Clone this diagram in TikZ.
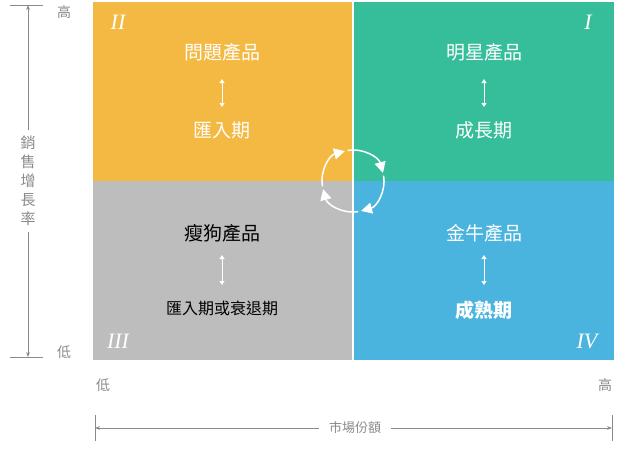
\documentclass[tikz,border=0pt]{standalone}
\usepackage{fontspec}
\setmainfont{Liberation Serif}
\newfontfamily\cjk{Noto Sans CJK TC}
\usetikzlibrary{arrows.meta}
\definecolor{qor}{HTML}{F4B942}
\definecolor{qgr}{HTML}{36BD9A}
\definecolor{qbl}{HTML}{4AB3DE}
\definecolor{qgy}{HTML}{BDBDBD}
\definecolor{axg}{HTML}{8A8A8A}
\tikzset{
 qt/.style={font=\cjk\fontsize{19}{19}\selectfont,text=white},
 qtb/.style={font=\cjk\fontsize{19}{19}\selectfont,text=black},
 num/.style={font=\itshape\fontsize{22}{22}\selectfont,text=white},
 dbl/.style={{Triangle[length=4pt,width=5pt]}-{Triangle[length=4pt,width=5pt]},white,line width=1pt},
 cyc/.style={white,line width=1.5pt,-{Triangle[length=11pt,width=11pt]}},
 ax/.style={axg,line width=0.7pt},
 axl/.style={font=\cjk\fontsize{14}{14}\selectfont,text=axg}
}
\begin{document}
\begin{tikzpicture}[x=1pt,y=-1pt]
\useasboundingbox (0,0) rectangle (622,451);
\fill[qor] (93,2) rectangle (353,181);
\fill[qgr] (353,2) rectangle (614,181);
\fill[qgy] (93,181) rectangle (353,360);
\fill[qbl] (353,181) rectangle (614,360);
\draw[white,line width=1.2pt] (353,2) -- (353,360);
% circle arrows
\coordinate (c) at (353,181);
\draw[cyc] ([shift={(170:31)}]c) arc[start angle=170,end angle=255,radius=31];
\draw[cyc] ([shift={(260:31)}]c) arc[start angle=260,end angle=345,radius=31];
\draw[cyc] ([shift={(350:31)}]c) arc[start angle=350,end angle=435,radius=31];
\draw[cyc] ([shift={(80:31)}]c) arc[start angle=80,end angle=165,radius=31];
% quadrant texts
\node[qt] (a1) at (222,52) {問題產品};
\node[qt] (a2) at (222,130) {匯入期};
\draw[dbl] (222,79) -- (222,107);
\node[qt] (b1) at (484,52) {明星產品};
\node[qt] (b2) at (484,130) {成長期};
\draw[dbl] (484,79) -- (484,107);
\node[qtb] (c1) at (222,233) {瘦狗產品};
\node[font=\cjk\fontsize{16}{16}\selectfont] (c2) at (222,308) {匯入期或衰退期};
\draw[dbl] (222,255) -- (222,285);
\node[qt] (d1) at (484,233) {金牛產品};
\node[qt,font=\cjk\bfseries\fontsize{19}{19}\selectfont] (d2) at (484,310) {成熟期};
\draw[dbl] (484,255) -- (484,285);
\node[num] (n2) at (118,22) {II};
\node[num] (n1) at (588,22) {I};
\node[num] (n3) at (118,341) {III};
\node[num] (n4) at (587,341) {IV};
% vertical axis
\draw[ax] (10,5) -- (43,5);
\draw[ax] (10,357) -- (43,357);
\node[axl,font=\cjk\fontsize{15}{19}\selectfont,align=center,inner sep=6pt] (vl) at (28,181) {銷\\售\\增\\長\\率};
\coordinate (vt) at (28,5);
\coordinate (vb) at (28,357);
\draw[ax,-{Stealth[length=5pt]}] (vl.north) -- (vt);
\draw[ax,-{Stealth[length=5pt]}] (vl.south) -- (vb);
\node[axl] (hi1) at (64,12) {高};
\node[axl] (lo1) at (64,352) {低};
% horizontal axis
\node[axl] (lo2) at (103,385) {低};
\node[axl] (hi2) at (605,385) {高};
\draw[ax] (95,415) -- (95,441);
\draw[ax] (612,415) -- (612,441);
\node[axl,font=\cjk\fontsize{13}{13}\selectfont,inner sep=10pt] (hl) at (355,428) {市場份額};
\coordinate (hl0) at (95,428);
\coordinate (hr0) at (612,428);
\draw[ax,-{Stealth[length=5pt]}] (hl.west) -- (hl0);
\draw[ax,-{Stealth[length=5pt]}] (hl.east) -- (hr0);
\end{tikzpicture}
\end{document}
